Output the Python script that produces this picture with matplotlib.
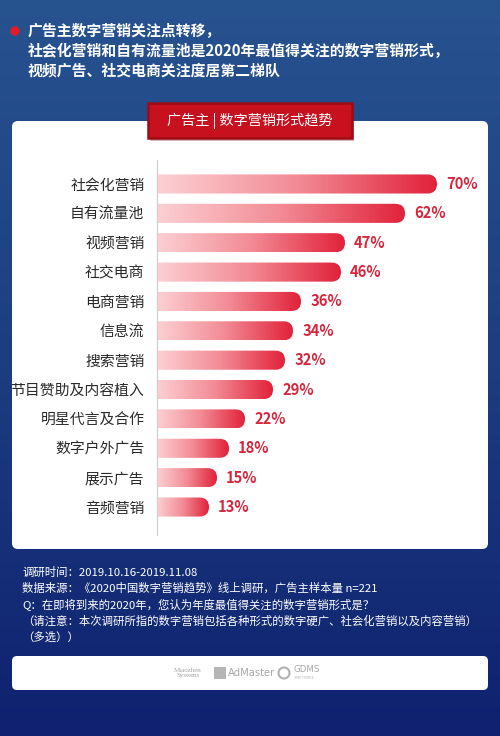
import numpy as np
import matplotlib
matplotlib.use("Agg")
import matplotlib.pyplot as plt
import matplotlib.patches as patches
from matplotlib.colors import LinearSegmentedColormap

plt.rcParams['font.family'] = ['Noto Sans CJK SC', 'DejaVu Sans']

# ==============================
# DATA
# ==============================
categories = ["社会化营销", "自有流量池", "视频营销", "社交电商", "电商营销", "信息流",
              "搜索营销", "节目赞助及内容植入", "明星代言及合作", "数字户外广告",
              "展示广告", "音频营销"]
values = [70, 62, 47, 46, 36, 34, 32, 29, 22, 18, 15, 13]

title_lines = ["广告主数字营销关注点转移，",
               "社会化营销和自有流量池是2020年最值得关注的数字营销形式，",
               "视频广告、社交电商关注度居第二梯队"]
header_text = "广告主 | 数字营销形式趋势"
footer_lines = ["调研时间：2019.10.16-2019.11.08",
                "数据来源：《2020中国数字营销趋势》线上调研，广告主样本量 n=221",
                "Q：在即将到来的2020年，您认为年度最值得关注的数字营销形式是？",
                "（请注意：本次调研所指的数字营销包括各种形式的数字硬广、社会化营销以及内容营销）",
                "（多选））"]

W, H = 500, 736
fig = plt.figure(figsize=(W / 100, H / 100), dpi=100)

# ---- background (pixel coords) ----
bg = fig.add_axes([0, 0, 1, 1], zorder=0)
bg.set_xlim(0, W)
bg.set_ylim(H, 0)
bg.axis('off')
bg_cmap = LinearSegmentedColormap.from_list("bg", ["#27538f", "#1c3d80", "#0f2170"])
grad = np.linspace(0, 1, 256).reshape(-1, 1)
bg.imshow(grad, cmap=bg_cmap, extent=(0, W, H, 0), aspect='auto', zorder=0)

# title
bg.add_patch(patches.Circle((15, 31), 4, color="#e3192e", zorder=2))
for k, line in enumerate(title_lines):
    bg.text(28, 31 + 20 * k, line, color="white", fontsize=10.7, fontweight='bold',
            va='center', ha='left', zorder=2)

# white panel
bg.add_patch(patches.FancyBboxPatch((12, 121), 476, 428,
                                    boxstyle="round,pad=0,rounding_size=6",
                                    fc="white", ec="none", zorder=1))
# header box
bg.add_patch(patches.Rectangle((150, 106), 204, 35, fc="#7a0a12", ec="none",
                               alpha=0.3, zorder=2))
bg.add_patch(patches.Rectangle((148, 103), 204, 35, fc="#c8111f", ec="#9e0b16",
                               lw=1.8, zorder=3))
bg.text(250, 121, header_text, color="white", fontsize=10.2, ha='center', va='center',
        zorder=4)

# footer
for k, line in enumerate(footer_lines):
    bg.text(22, 572 + 16.3 * k, line, color="white", fontsize=8.2, ha='left',
            va='center', zorder=2)

# logo panel
bg.add_patch(patches.FancyBboxPatch((12, 656), 476, 34,
                                    boxstyle="round,pad=0,rounding_size=5",
                                    fc="white", ec="none", zorder=1))
bg.text(188, 673, "Miaozhen\nSystems", color="#a0a0a0", fontsize=5, ha='center',
        va='center', linespacing=0.9, family='Liberation Serif', zorder=2)
bg.add_patch(patches.Rectangle((214, 667), 12, 12, fc="#b5b5b5", ec="none", zorder=2))
bg.text(228, 673, "AdMaster", color="#a8a8a8", fontsize=7.2, ha='left', va='center',
        family='DejaVu Sans', zorder=2)
bg.add_patch(patches.Circle((284, 673), 5.5, fc="none", ec="#b0b0b0", lw=1.5, zorder=2))
bg.text(293, 670, "GDMS", color="#a8a8a8", fontsize=6.2, ha='left', va='center',
        family='DejaVu Sans', zorder=2)
bg.text(293, 678, "TIMETOMKE", color="#b8b8b8", fontsize=2.5, ha='left', va='center',
        family='DejaVu Sans', zorder=2)

# ---- chart axes ----
px_per_unit = 4.0
row_px = 29.4
ax_left, ax_right, ax_top, ax_bottom = 157, 488, 160, 535
ax = fig.add_axes([ax_left / W, (H - ax_bottom) / H,
                   (ax_right - ax_left) / W, (ax_bottom - ax_top) / H], zorder=2)
ax.patch.set_alpha(0)

xmax = (ax_right - ax_left) / px_per_unit
y_top = -(184 - ax_top) / row_px
y_bot = (len(values) - 1) + (ax_bottom - 507) / row_px

bar_h = 0.65
m_aspect = px_per_unit / row_px
rad = bar_h / m_aspect / 2
bar_cmap = LinearSegmentedColormap.from_list("bar", ["#fcd0d3", "#f28b95", "#e1223a"])
gradx = np.linspace(0, 1, 256).reshape(1, -1)

for i, v in enumerate(values):
    box = patches.FancyBboxPatch((-rad, i - bar_h / 2), v + rad, bar_h,
                                 boxstyle=f"round,pad=0,rounding_size={rad}",
                                 mutation_aspect=m_aspect, fc="none", ec="none")
    ax.add_patch(box)
    im = ax.imshow(gradx, cmap=bar_cmap, extent=(0, v, i + bar_h / 2, i - bar_h / 2),
                   aspect='auto', zorder=2)
    im.set_clip_path(box)
    ax.text(v + 2.3, i, f"{v}%", color="#d8253b", fontsize=10.6, fontweight='bold',
            ha='left', va='center')

ax.set_xlim(0, xmax)
ax.set_ylim(y_bot, y_top)
ax.set_yticks(range(len(categories)))
ax.set_yticklabels(categories, fontsize=10.7, color="#2a2a2a")
ax.tick_params(axis='y', length=0, pad=9)
ax.set_xticks([])
for s in ['top', 'right', 'bottom']:
    ax.spines[s].set_visible(False)
ax.spines['left'].set_color("#cfcfcf")
ax.spines['left'].set_linewidth(0.9)

fig.savefig("out.png", dpi=100)
